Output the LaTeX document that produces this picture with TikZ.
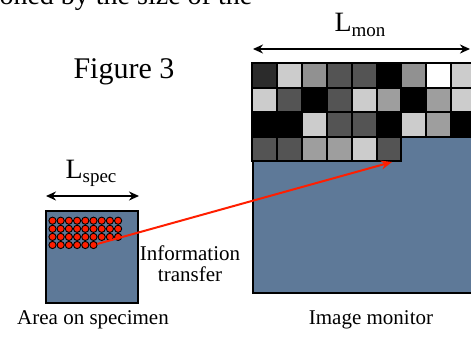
\documentclass[tikz,border=0pt]{standalone}
\usepackage{fontspec}
\setmainfont{Liberation Serif}
\usetikzlibrary{arrows.meta,positioning,calc}
\definecolor{slate}{RGB}{94,121,152}
\definecolor{dotred}{RGB}{255,30,0}
\tikzset{scr/.style={draw=black,line width=2pt,fill=slate,inner sep=0pt},
 cell/.style={draw=black,line width=2pt},
 dot/.style={circle,draw=black,line width=.9pt,fill=dotred,inner sep=0pt,minimum size=7.2pt},
 dim/.style={{Stealth[length=10pt,width=9pt]}-{Stealth[length=10pt,width=9pt]},line width=2pt},
 flow/.style={-{Stealth[length=11pt,width=9pt]},draw=dotred,line width=2pt},
 lbl/.style={font=\fontsize{21}{21}\selectfont},
 big/.style={font=\fontsize{28}{30}\selectfont}}
\newcommand{\sub}[1]{\raisebox{-4.5pt}{\fontsize{19}{20}\selectfont #1}}

\begin{document}
\begin{tikzpicture}[x=1pt,y=-1pt]
\clip (0,0) rectangle (471,337);
\node[big,anchor=base west](cap) at (-4,5){oned by the size of the};
\node[anchor=base west,font=\fontsize{30}{32}\selectfont](fig) at (70,78){Figure 3};
% monitor with the pixel grid in its upper part
\node[scr,minimum width=226pt,minimum height=229pt,anchor=north west](mon) at (252,63){};
\foreach \row [count=\r from 0] in {{83,20,43,67,67,100,43,0,20},{20,67,100,67,20,38,100,38,20},
 {100,100,20,67,67,100,20,38,100},{67,67,38,38,20,67}}
 \foreach \k [count=\c from 0] in \row
  \draw[cell,fill=black!\k]($(mon.north west)+(\c*24.9,\r*24.5)$) rectangle ++(24.9,24.5);
\coordinate (lm1) at ($(mon.north west)+(1,-14)$);\coordinate (lm2) at (470,49);
\draw[dim](lm1)--(lm2);
\node[big,anchor=base](lmon) at (360,32){L\sub{mon}};
% specimen area with the probed spots
\node[scr,minimum size=92pt,anchor=north west](spec) at (45,210){};
\foreach \j in {0,1,2}{\foreach \i in {0,...,8}{\node[dot] at (52.5+8.2*\i,220.7+8.1*\j){};}}
\foreach \i in {0,...,5}{\node[dot](d\i) at (52.5+8.2*\i,245){};}
\coordinate (ls1) at ($(spec.north west)+(1,-14)$);\coordinate (ls2) at ($(spec.north east)+(0,-14)$);
\draw[dim](ls1)--(ls2);
\node[big,anchor=base](lspec) at (91,178){L\sub{spec}};
\coordinate (hit) at (392,162);
\draw[flow](d5)--(hit);
\node[lbl,align=center,anchor=north](info) at (190,242){Information\\transfer};
\node[lbl,anchor=base](areal) at (93,324){Area on specimen};
\node[lbl,anchor=base](monl) at (371,324){Image monitor};
\end{tikzpicture}
\end{document}
